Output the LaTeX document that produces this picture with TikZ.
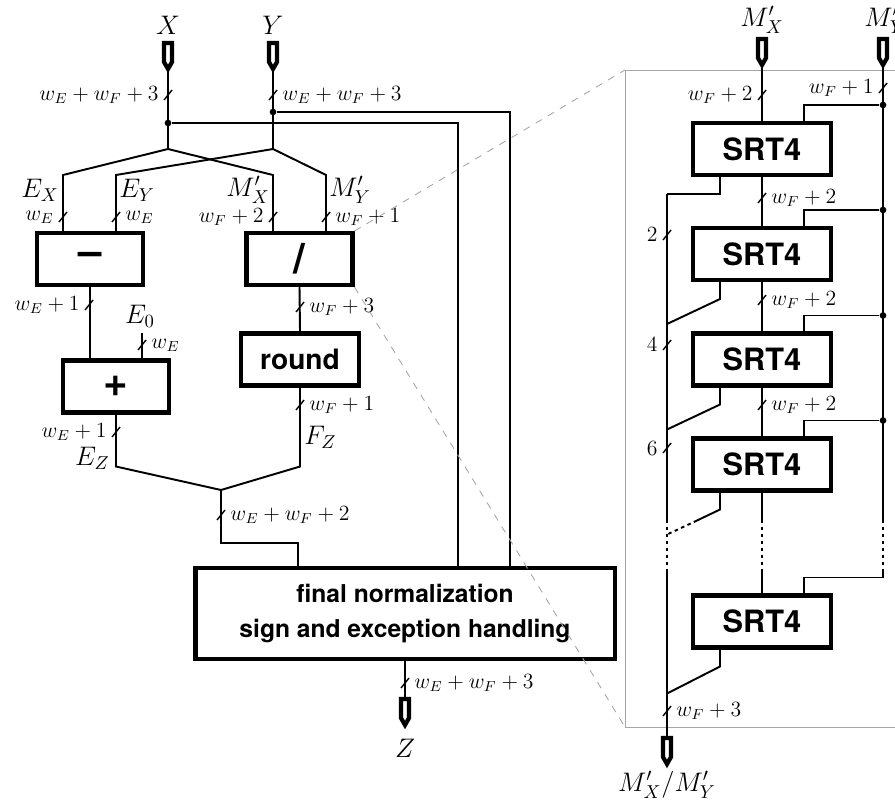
\documentclass[tikz,border=0pt]{standalone}
\usepackage{fontspec}
\setsansfont{TeX Gyre Heros}
\usetikzlibrary{calc}

% bus-width mark: slash on the wire plus its label
\newcommand{\busmark}[4]{%
  \draw[wire, line width=0.8pt] ($(#2)+(-4,5)$) -- ($(#2)+(4,-5)$);
  \node[wlab, #3=5pt] (#1) at (#2) {#4};}

\tikzset{iopin/.pic={\draw[line width=2.4pt] (-4,1) -- (4,1) -- (4,20) -- (0,27) -- (-4,20) -- cycle;}}

\begin{document}
\begin{tikzpicture}[x=0.02cm, y=-0.02cm,
      wire/.style={line width=1.1pt},
      gap/.style={wire, dash pattern=on 2pt off 2pt},
      unit/.style={draw, line width=2.3pt, inner sep=0pt, minimum width=2.12cm,
                   minimum height=1.04cm, font=\sffamily\bfseries\fontsize{16}{18}\selectfont},
      opsym/.style={unit, font=\sffamily\bfseries\fontsize{24}{24}\selectfont},
      srt/.style={unit, minimum width=2.76cm, font=\sffamily\bfseries\fontsize{17.5}{20}\selectfont},
      sig/.style={inner sep=0pt, font=\Large, scale=1.06, transform shape},
      wlab/.style={inner sep=0pt, font=\large, scale=1.03, transform shape},
      dot/.style={circle, fill, inner sep=0pt, minimum size=3.8pt},
      zoomln/.style={gray!70, line width=0.5pt, dash pattern=on 4pt off 4pt}]
    \useasboundingbox (0,0) rectangle (895,800);
    \clip (0,0) rectangle (895,800);

    % ---- main datapath ----
    \node[opsym] (sub) at (90,259)    {\textendash};
    \node[opsym] (div) at (299.5,259) {/};
    \node[opsym] (add) at (116,386.5) {+};
    \node[unit, minimum width=2.36cm] (rnd) at (300,359.5) {round};
    \node[unit, minimum width=8.4cm, minimum height=1.82cm, line width=2.8pt, align=center,
          font=\sffamily\bfseries\fontsize{14}{20}\selectfont] (fin) at (405,613.5)
          {final normalization\\sign and exception handling};

    \pic at (168,42) {iopin};  \coordinate (xin) at (168,70);
    \pic at (273,42) {iopin};  \coordinate (yin) at (273,70);
    \node[sig] (lx) at (168,25) {$X$};
    \node[sig] (ly) at (273,25) {$Y$};

    \node[dot] (xtap) at (168,123) {};
    \node[dot] (ytap) at (273,112) {};
    \coordinate (xfork) at (168,149);
    \coordinate (yfork) at (273,149);
    \draw[wire] (xin) -- (xfork);
    \draw[wire] (yin) -- (yfork);
    \draw[wire] (xtap) -- ++(290,0) coordinate (xr) -- (xr |- fin.north);
    \draw[wire] (ytap) -- ++(237,0) coordinate (yr) -- (yr |- fin.north);

    \draw[wire] (xfork) -- ++(-105,26) coordinate (ex) -- (ex |- sub.north);
    \draw[wire] (yfork) -- ++(-157,26) coordinate (ey) -- (ey |- sub.north);
    \draw[wire] (xfork) -- ++(105,26)  coordinate (mx) -- (mx |- div.north);
    \draw[wire] (yfork) -- ++(53,26)   coordinate (my) -- (my |- div.north);
    \node[sig, anchor=east] (lex) at (59,190)  {$E_X$};
    \node[sig, anchor=west] (ley) at (119,190) {$E_Y$};
    \node[sig, anchor=east] (lmx) at (270,190) {$M'_X$};
    \node[sig, anchor=west] (lmy) at (329,190) {$M'_Y$};

    \draw[wire] (sub.south) -- (sub.south |- add.north);
    \coordinate (ezero) at (142,333);
    \draw[wire] (ezero) -- (ezero |- add.north);
    \node[sig] (lez) at (140,316) {$E_0$};
    \draw[wire] (div.south) -- (rnd.north);

    \coordinate (merge) at (221,490);
    \draw[wire] (add.south) -- ++(0,52) -- (merge);
    \draw[wire] (rnd.south) -- ++(0,79) -- (merge);
    \draw[wire] (merge) -- ++(0,53) -| ($(fin.north west)+(105,0)$);
    \node[sig, anchor=east] (lezz) at (110,458) {$E_Z$};
    \node[sig, anchor=west] (lfz) at (304,437) {$F_Z$};

    \coordinate (zout) at (405,698);
    \draw[wire] (fin.south) -- (zout);
    \pic at (zout) {iopin};
    \node[sig] (lz) at (405,748) {$Z$};

    \busmark{lxw}{168,95}{left}{$w_E+w_F+3$}
    \busmark{lyw}{273,95}{right}{$w_E+w_F+3$}
    \busmark{lexw}{63,217}{left}{$w_E$}
    \busmark{leyw}{116,217}{right}{$w_E$}
    \busmark{lmxw}{273,217}{left}{$w_F+2$}
    \busmark{lmyw}{326,217}{right}{$w_F+1$}
    \busmark{lsubw}{89,305}{left}{$w_E+1$}
    \busmark{lezw}{142,345}{right}{$w_E$}
    \busmark{laddw}{116,432}{left}{$w_E+1$}
    \busmark{ldivw}{300,307}{right}{$w_F+3$}
    \busmark{lrndw}{300,405}{right}{$w_F+1$}
    \busmark{lsumw}{221,515}{right}{$w_E+w_F+2$}
    \busmark{loutw}{405,683}{right}{$w_E+w_F+3$}

    % ---- zoom on the divider ----
    \coordinate (pnw) at (625,70);
    \coordinate (psw) at (625,727);
    \draw[gray!70, line width=0.5pt] (920,70) -- (pnw) -- (psw) -- (920,727);
    \draw[zoomln] (div.north east) -- (pnw);
    \draw[zoomln] (div.south east) -- (psw);

    \foreach \i/\y in {1/149,2/254,3/359.5,4/464.5,5/621.5}
      \node[srt] (s\i) at (762,\y) {SRT4};

    \pic at (762,38) {iopin};  \coordinate (mxin) at (762,66);
    \pic at (883,38) {iopin};  \coordinate (myin) at (883,66);
    \node[sig] (lmx2) at (762,20) {$M'_X$};
    \node[sig] (lmy2) at (885,20) {$M'_Y$};

    % quotient datapath
    \draw[wire] (mxin) -- (s1.north);
    \draw[wire] (s1.south) -- (s2.north);
    \draw[wire] (s2.south) -- (s3.north);
    \draw[wire] (s3.south) -- (s4.north);
    \draw[wire] (s4.south) -- ++(0,27) coordinate (ma);
    \draw[gap] (ma) -- ++(0,49) coordinate (mb);
    \draw[wire] (mb) -- (s5.north);

    % divisor broadcast
    \foreach \i in {1,...,4} {
      \path (s\i.north) ++(121,-16) node[dot] (t\i) {};
      \draw[wire] (t\i) -| ($(s\i.north)+(42,0)$);
    }
    \coordinate (t5) at ($(s5.north)+(121,-16)$);
    \draw[wire] (myin) -- (ma -| myin);
    \draw[gap] (ma -| myin) -- (mb -| myin);
    \draw[wire] (mb -| myin) -- (t5) -| ($(s5.north)+(42,0)$);

    % quotient digits collector
    \coordinate (qout) at (667,737);
    \draw[wire] ($(s1.south)+(-42,0)$) -- ++(0,17) -- ++(-53,0) coordinate (q0);
    \draw[wire] (q0) -- (q0 |- ma);
    \draw[gap] (q0 |- ma) -- (q0 |- mb);
    \draw[wire] (q0 |- mb) -- (qout);
    \foreach \i in {2,3}
      \draw[wire] ($(s\i.south)+(-42,0)$) -- ++(0,17) -- ++(-53,25);
    \draw[wire] ($(s4.south)+(-42,0)$) -- ++(0,17) -- ++(-23,11) coordinate (q4);
    \draw[gap] (q4) -- ++(-30,14);
    \draw[wire] ($(s5.south)+(-42,0)$) -- ++(0,17) -- ++(-53,27);
    \pic at (qout) {iopin};
    \node[sig] (lq) at (667,785) {$M'_X/M'_Y$};

    \busmark{rmxw}{762,95}{left}{$w_F+2$}
    \busmark{rmyw}{883,88}{left}{$w_F+1$}
    \busmark{r1w}{762,198}{right}{$w_F+2$}
    \busmark{r2w}{762,300}{right}{$w_F+2$}
    \busmark{r3w}{762,405}{right}{$w_F+2$}
    \busmark{rq1}{667,235}{left}{$2$}
    \busmark{rq2}{667,345}{left}{$4$}
    \busmark{rq3}{667,448}{left}{$6$}
    \busmark{routw}{667,711}{right}{$w_F+3$}
  \end{tikzpicture}
\end{document}
